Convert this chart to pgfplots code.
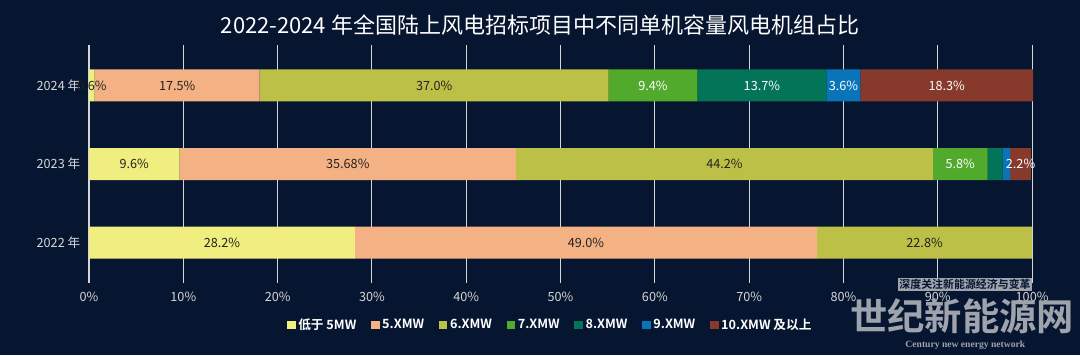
\documentclass[border=0pt]{standalone}
\usepackage{pgfplots}
\pgfplotsset{compat=1.18}
\usepackage{pgfplotstable}
\usepackage{fontspec}
\setmainfont{Noto Sans CJK SC}[BoldFont={Noto Sans CJK SC Bold}]
\newfontfamily\wmserif{Liberation Serif}[BoldFont={Liberation Serif Bold}]
\definecolor{bg}{HTML}{061530}
\definecolor{c1}{HTML}{EFEE7E}
\definecolor{c2}{HTML}{F4B183}
\definecolor{c3}{HTML}{BDC046}
\definecolor{c4}{HTML}{52AA2C}
\definecolor{c5}{HTML}{037458}
\definecolor{c6}{HTML}{0A74B8}
\definecolor{c7}{HTML}{87392B}
\definecolor{lab}{HTML}{222222}
\definecolor{tick}{HTML}{D6D6D6}
\definecolor{wm}{HTML}{9EA3AC}

% y: 0 = 2022, 1 = 2023, 2 = 2024
\pgfplotstableread{
y x lab
0 28.2 28.2\%
1 9.6 9.6\%
2 0.6 0.6\%
}\sa
\pgfplotstableread{
y x lab
0 49.0 49.0\%
1 35.68 35.68\%
2 17.5 17.5\%
}\sb
\pgfplotstableread{
y x lab
0 22.8 22.8\%
1 44.2 44.2\%
2 37.0 37.0\%
}\sc
\pgfplotstableread{
y x lab
0 0 {}
1 5.8 5.8\%
2 9.4 9.4\%
}\sd
\pgfplotstableread{
y x lab
0 0 {}
1 1.6 {}
2 13.7 13.7\%
}\se
\pgfplotstableread{
y x lab
0 0 {}
1 0.8 {}
2 3.6 3.6\%
}\sf
\pgfplotstableread{
y x lab
0 0 {}
1 2.2 2.2\%
2 18.3 18.3\%
}\sg

\begin{document}
\begin{tikzpicture}
\fill[bg] (0,0) rectangle (810pt,266.25pt);
\useasboundingbox (0,0) rectangle (810pt,266.25pt);
\node[text=white] at (405pt,247.5pt) {\fontsize{16.5}{20}\selectfont 2022-2024 年全国陆上风电招标项目中不同单机容量风电机组占比};
\begin{axis}[
  at={(66.75pt,54pt)}, anchor=south west,
  scale only axis, width=708pt, height=178.5pt,
  xbar stacked, bar width=24pt,
  xmin=0, xmax=100.1, ymin=-0.515, ymax=2.515,
  xtick={0,10,...,100},
  xticklabels={0\%,10\%,20\%,30\%,40\%,50\%,60\%,70\%,80\%,90\%,100\%},
  ytick={0,1,2}, yticklabels={2022 年,2023 年,2024 年},
  xmajorgrids, grid style={draw=tick, line width=0.8pt},
  axis line style={draw=none}, major tick length=0pt,
  tick label style={text=tick, font=\fontsize{9.5}{11}\selectfont},
  xticklabel style={yshift=-3pt},
  yticklabel style={xshift=-3pt},
  point meta=explicit symbolic,
  nodes near coords={\pgfplotspointmeta},
  nodes near coords style={font=\fontsize{9.5}{11}\selectfont},
  legend columns=-1,
  legend style={at={(0.489,-0.1765)}, anchor=center, draw=none, fill=none,
    text=white, font=\bfseries\fontsize{9.5}{11}\selectfont,
    /tikz/every even column/.append style={column sep=9pt}},
  legend image code/.code={\fill[#1] (0pt,-3.2pt) rectangle (6.4pt,3.2pt);},
  every axis plot/.append style={draw=none,
    every node near coord/.append style={anchor=center}},
]
\addplot[fill=c1, every node near coord/.append style={text=lab}] table[x=x,y=y,meta=lab] {\sa};
\addlegendentry{低于 5MW}
\addplot[fill=c2, every node near coord/.append style={text=lab}] table[x=x,y=y,meta=lab] {\sb};
\addlegendentry{5.XMW}
\addplot[fill=c3, every node near coord/.append style={text=lab}] table[x=x,y=y,meta=lab] {\sc};
\addlegendentry{6.XMW}
\addplot[fill=c4, every node near coord/.append style={text=white}] table[x=x,y=y,meta=lab] {\sd};
\addlegendentry{7.XMW}
\addplot[fill=c5, every node near coord/.append style={text=white}] table[x=x,y=y,meta=lab] {\se};
\addlegendentry{8.XMW}
\addplot[fill=c6, every node near coord/.append style={text=white}] table[x=x,y=y,meta=lab] {\sf};
\addlegendentry{9.XMW}
\addplot[fill=c7, every node near coord/.append style={text=white}] table[x=x,y=y,meta=lab] {\sg};
\addlegendentry{10.XMW 及以上}
\end{axis}
% watermark
\node[fill=wm, text=bg, inner sep=1.2pt, font=\bfseries\fontsize{8.2}{9}\selectfont] at (723.75pt,52.9pt) {深度关注新能源经济与变革};
\node[text=wm, inner sep=0pt, font=\bfseries\fontsize{28}{30}\selectfont] at (721.5pt,29.25pt) {世纪新能源网};
\node[text=wm, inner sep=0pt, font=\wmserif\bfseries\fontsize{7.2}{8}\selectfont] at (724pt,7.5pt) {Century new energy network};
\end{tikzpicture}
\end{document}
